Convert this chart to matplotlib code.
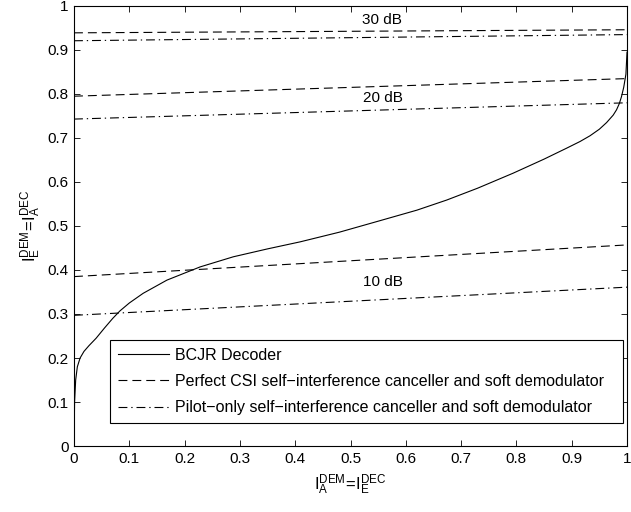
import matplotlib
matplotlib.use("Agg")
import matplotlib.pyplot as plt

plt.rcParams['font.family'] = ['Liberation Sans', 'DejaVu Sans']
plt.rcParams['mathtext.fontset'] = 'custom'
plt.rcParams['mathtext.rm'] = 'Liberation Sans'
plt.rcParams['mathtext.it'] = 'Liberation Sans'

# BCJR decoder EXIT curve
bcjr_x = [0, 0.001, 0.003, 0.006, 0.011, 0.018, 0.027, 0.04, 0.055, 0.07, 0.083, 0.1,
          0.125, 0.168, 0.228, 0.288, 0.35, 0.409, 0.48, 0.553, 0.62, 0.674, 0.73,
          0.794, 0.85, 0.891, 0.915, 0.933, 0.95, 0.963, 0.975, 0.981, 0.986, 0.990,
          0.994, 0.998, 1.0]
bcjr_y = [0, 0.10, 0.15, 0.18, 0.200, 0.215, 0.228, 0.245, 0.268, 0.290, 0.307, 0.325,
          0.347, 0.377, 0.407, 0.430, 0.448, 0.464, 0.486, 0.512, 0.536, 0.559, 0.586,
          0.620, 0.652, 0.677, 0.692, 0.705, 0.720, 0.735, 0.752, 0.764, 0.778, 0.794,
          0.815, 0.845, 0.895]

# demodulator curves (straight lines) at 10, 20, 30 dB: value at x=0 and x=1
line_x = [0, 1]
perfect_10 = [0.385, 0.457]
perfect_20 = [0.795, 0.835]
perfect_30 = [0.939, 0.946]
pilot_10 = [0.297, 0.361]
pilot_20 = [0.743, 0.780]
pilot_30 = [0.921, 0.935]

snr_labels = ["10 dB", "20 dB", "30 dB"]
snr_label_x = [0.559, 0.559, 0.557]
snr_label_y = [0.373, 0.790, 0.968]

ticks = [0, 0.1, 0.2, 0.3, 0.4, 0.5, 0.6, 0.7, 0.8, 0.9, 1]
tick_labels = ['0', '0.1', '0.2', '0.3', '0.4', '0.5', '0.6', '0.7', '0.8', '0.9', '1']

fig = plt.figure(figsize=(6.31, 5.12), dpi=100)
ax = fig.add_axes([0.1173, 0.1289, 0.8764, 0.8594])

dash = (0, (8, 4.5))
dashdot = (0, (8, 3.5, 1.2, 3.5))
lw = 0.8

ax.plot(bcjr_x, bcjr_y, color='black', lw=lw, label='BCJR Decoder')
ax.plot(line_x, perfect_10, color='black', lw=lw, linestyle=dash,
        label='Perfect CSI self\u2212interference canceller and soft demodulator')
ax.plot(line_x, pilot_10, color='black', lw=lw, linestyle=dashdot,
        label='Pilot\u2212only self\u2212interference canceller and soft demodulator')
ax.plot(line_x, perfect_20, color='black', lw=lw, linestyle=dash)
ax.plot(line_x, pilot_20, color='black', lw=lw, linestyle=dashdot)
ax.plot(line_x, perfect_30, color='black', lw=lw, linestyle=dash)
ax.plot(line_x, pilot_30, color='black', lw=lw, linestyle=dashdot)

for t, tx, ty in zip(snr_labels, snr_label_x, snr_label_y):
    ax.text(tx, ty, t, ha='center', va='center', fontsize=11)

ax.set_xlim(0, 1)
ax.set_ylim(0, 1)
ax.set_xticks(ticks)
ax.set_xticklabels(tick_labels)
ax.set_yticks(ticks)
ax.set_yticklabels(tick_labels)
ax.tick_params(direction='in', top=True, right=True, length=4, width=0.6,
               labelsize=11, pad=4)
for s in ax.spines.values():
    s.set_linewidth(0.8)

ax.set_xlabel(r'$\mathrm{I}_{\mathrm{A}}^{\mathrm{DEM}}\!=\!\mathrm{I}_{\mathrm{E}}^{\mathrm{DEC}}$',
              fontsize=12, labelpad=5)
ax.set_ylabel(r'$\mathrm{I}_{\mathrm{E}}^{\mathrm{DEM}}\!=\!\mathrm{I}_{\mathrm{A}}^{\mathrm{DEC}}$',
              fontsize=12, labelpad=3)

leg = ax.legend(loc='lower left', bbox_to_anchor=(0.065, 0.052, 0.928, 0.19),
                mode='expand', fontsize=11.5,
                handlelength=3.2, handletextpad=0.35, labelspacing=0.7,
                borderpad=0.5, fancybox=False, framealpha=1, edgecolor='black',
                borderaxespad=0)
leg.get_frame().set_linewidth(0.8)

fig.savefig('out.png', dpi=100)
